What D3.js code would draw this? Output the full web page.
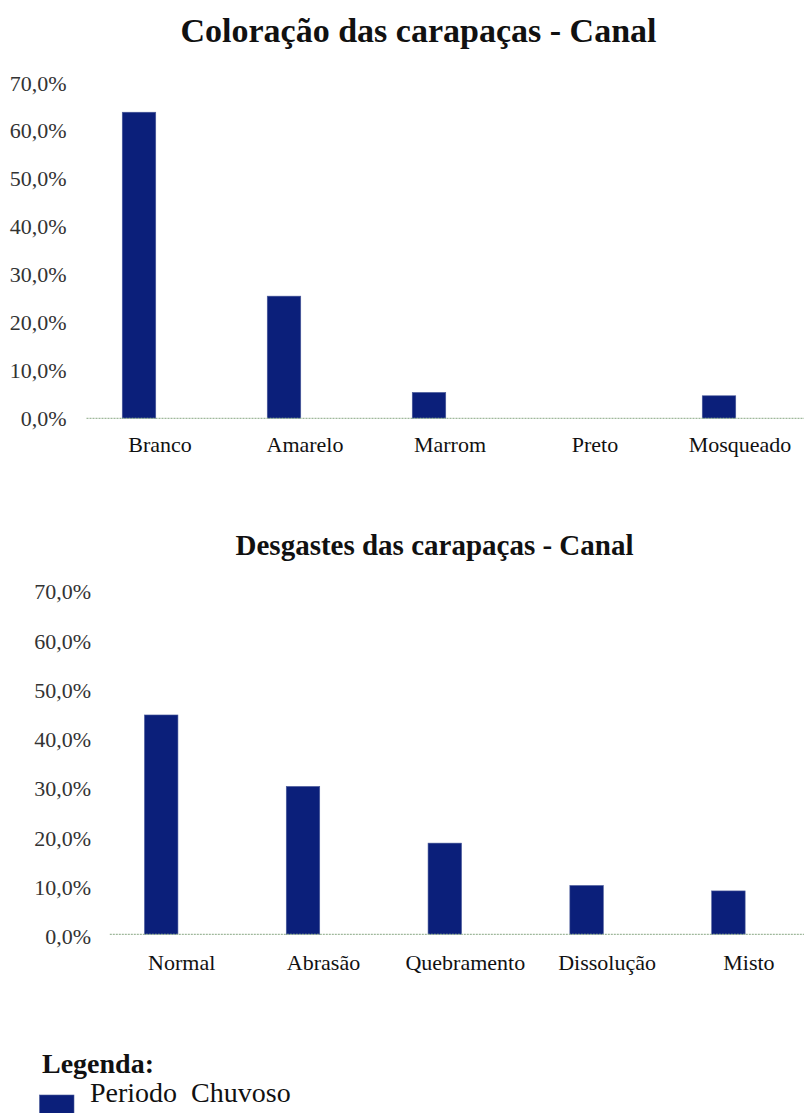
<!DOCTYPE html>
<html>
<head>
<meta charset="utf-8">
<script src="https://cdn.jsdelivr.net/npm/d3@7"></script>
<style>
  html, body { margin: 0; padding: 0; background: #ffffff; }
  svg { display: block; }
  text { font-family: "Liberation Serif", "Times New Roman", "DejaVu Serif", serif; }
</style>
</head>
<body>
<svg id="chart" width="804" height="1113"></svg>
<script>
// ---- Data ----
const seriesName = "Periodo  Chuvoso";
const title1 = "Coloração das carapaças - Canal";
const categories1 = ["Branco", "Amarelo", "Marrom", "Preto", "Mosqueado"];
const values1 = [63.9, 25.5, 5.4, 0.0, 4.7];

const title2 = "Desgastes das carapaças - Canal";
const categories2 = ["Normal", "Abrasão", "Quebramento", "Dissolução", "Misto"];
const values2 = [44.5, 30.0, 18.5, 9.9, 8.8];

const tickValues = [0, 10, 20, 30, 40, 50, 60, 70];
const tickLabels = ["0,0%", "10,0%", "20,0%", "30,0%", "40,0%", "50,0%", "60,0%", "70,0%"];

// ---- Styles / layout ----
const barColor = "#0b1f7a";
const svg = d3.select("#chart");

function drawChart(cfg) {
  const g = svg.append("g");
  const x = d3.scaleBand().domain(cfg.categories).range([cfg.x0, cfg.x1]).padding(0);
  const y = d3.scaleLinear().domain([0, 70]).range([cfg.yBase, cfg.yTop]);
  const bw = x.bandwidth() * cfg.barFrac;

  // title
  g.append("text")
    .attr("x", cfg.titleX).attr("y", cfg.titleY)
    .attr("text-anchor", "middle")
    .attr("font-weight", "bold")
    .attr("font-size", cfg.titleSize)
    .attr("fill", "#111")
    .text(cfg.title);

  // y tick labels
  g.selectAll(".ytick").data(tickValues).enter().append("text")
    .attr("x", cfg.tickX)
    .attr("y", d => y(d) + cfg.tickDy)
    .attr("text-anchor", "end")
    .attr("font-size", 22)
    .attr("fill", "#333")
    .text((d, i) => tickLabels[i]);

  // bars
  g.selectAll(".bar").data(cfg.values).enter().append("rect")
    .attr("x", (d, i) => x(cfg.categories[i]) + x.bandwidth() / 2 + cfg.barShift - bw / 2)
    .attr("y", d => y(d))
    .attr("width", bw)
    .attr("height", d => y(0) - y(d))
    .attr("fill", barColor)
    .attr("stroke", "#4a5a9a")
    .attr("stroke-width", 0.6);

  // baseline
  g.append("line")
    .attr("x1", cfg.x0 - 1).attr("x2", cfg.x1)
    .attr("y1", y(0)).attr("y2", y(0))
    .attr("stroke", "#9fb89b")
    .attr("stroke-width", 1.3)
    .attr("stroke-dasharray", "2,1");

  // x labels
  g.selectAll(".xlab").data(cfg.categories).enter().append("text")
    .attr("x", d => x(d) + x.bandwidth() / 2)
    .attr("y", y(0) + cfg.labelDy)
    .attr("text-anchor", "middle")
    .attr("font-size", 22)
    .attr("fill", "#111")
    .text(d => d);
}

drawChart({
  title: title1, categories: categories1, values: values1,
  x0: 87.5, x1: 812.5, yBase: 418.3, yTop: 83.0,
  barFrac: 0.231, barShift: -21,
  titleX: 418.5, titleY: 42, titleSize: 34,
  tickX: 66.5, tickDy: 7.5, labelDy: 34
});

drawChart({
  title: title2, categories: categories2, values: values2,
  x0: 110.8, x1: 819.8, yBase: 934.3, yTop: 589.3,
  barFrac: 0.236, barShift: -20.5,
  titleX: 434.5, titleY: 555, titleSize: 29,
  tickX: 91, tickDy: 10, labelDy: 36
});

// ---- Legend ----
const leg = svg.append("g");
leg.append("text")
  .attr("x", 42).attr("y", 1073)
  .attr("font-weight", "bold")
  .attr("font-size", 28)
  .attr("fill", "#111")
  .text("Legenda:");
leg.append("rect")
  .attr("x", 39.5).attr("y", 1095)
  .attr("width", 34.5).attr("height", 20)
  .attr("fill", barColor)
  .attr("stroke", "#4a5a9a").attr("stroke-width", 0.6);
leg.append("text")
  .attr("x", 90).attr("y", 1101.5)
  .attr("font-size", 28)
  .attr("fill", "#111")
  .attr("xml:space", "preserve")
  .style("white-space", "pre")
  .text(seriesName);
</script>
</body>
</html>
